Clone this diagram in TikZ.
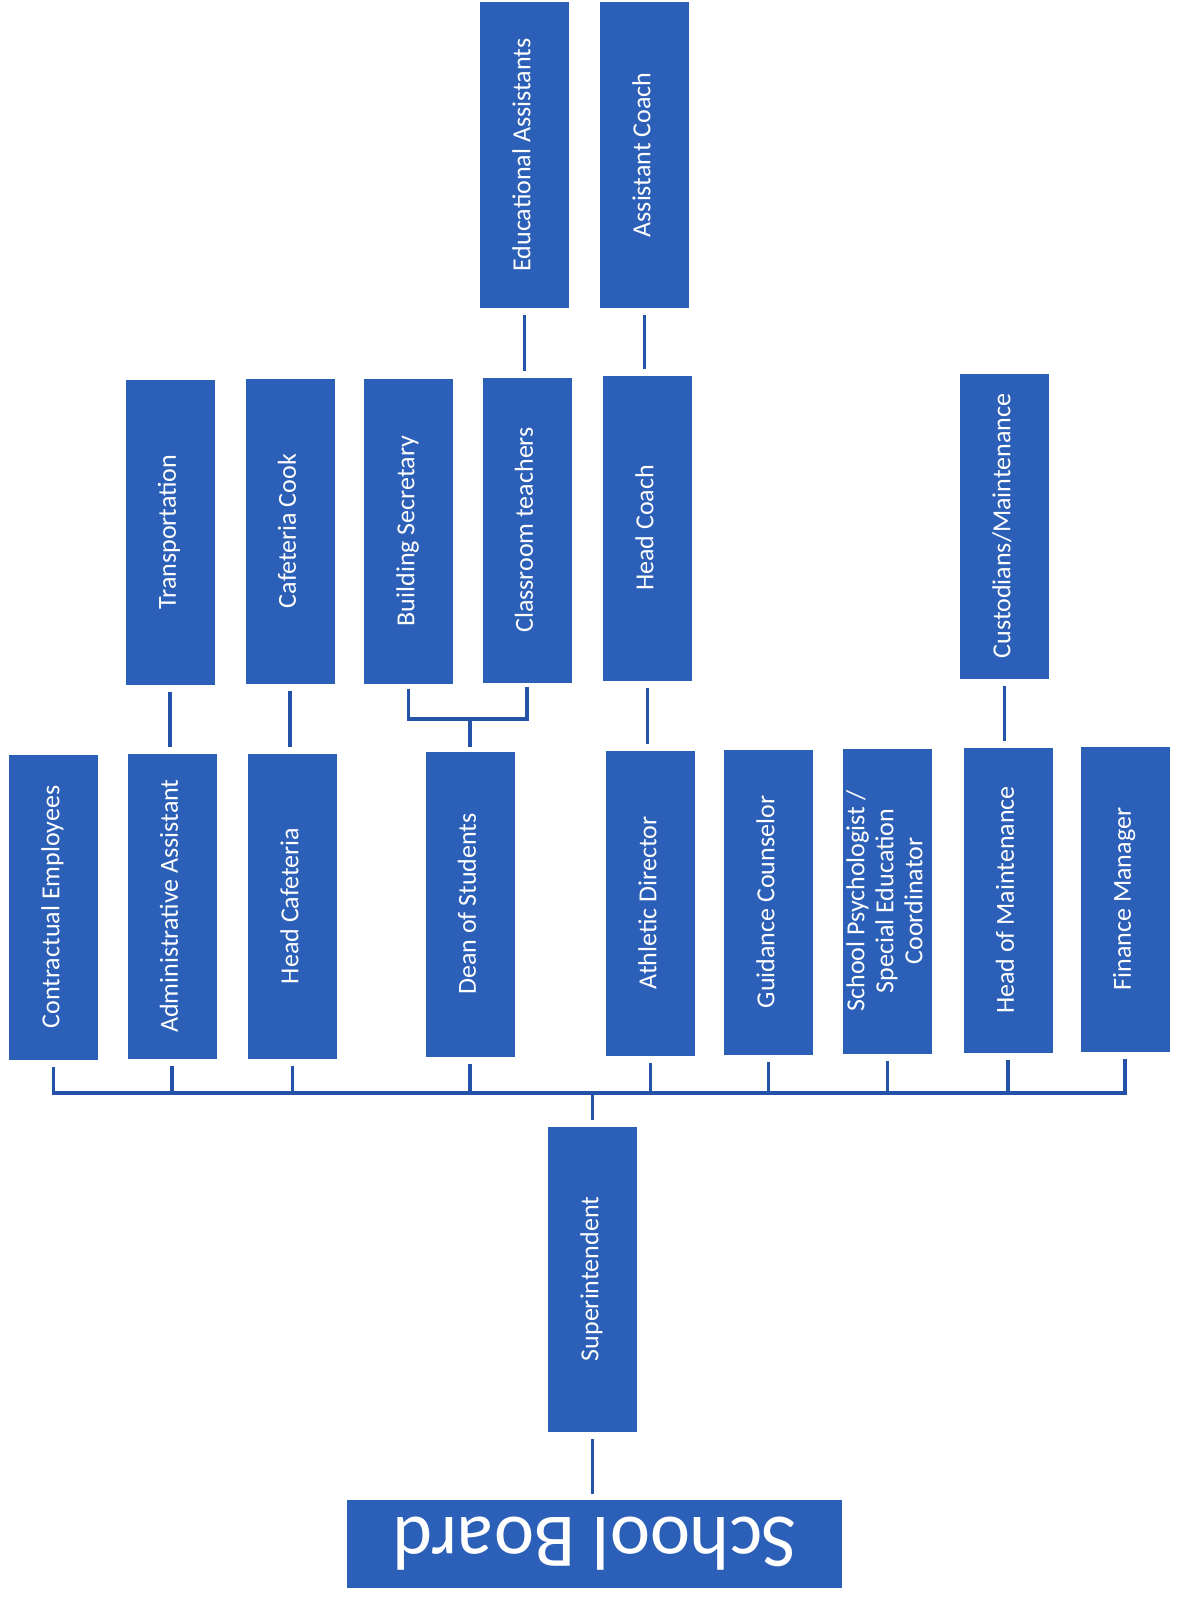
\documentclass[tikz,border=0pt]{standalone}
\usepackage{fontspec}
\usepackage{graphicx}
\setmainfont{Carlito}
\definecolor{boxblue}{RGB}{44,96,184}
\definecolor{linecol}{RGB}{36,82,168}
\newcommand{\vtext}[1]{\rotatebox{90}{\begin{tabular}{@{}c@{}}#1\end{tabular}}}

\tikzset{
	box/.style={fill=boxblue, text=white, minimum width=89pt, minimum height=305pt,
		inner sep=0pt, font=\fontsize{26}{29}\selectfont},
	stem/.style={draw=linecol, line width=3.5pt},
	link/.style={stem, shorten <=7pt, shorten >=6pt}
}

\begin{document}
\begin{tikzpicture}[x=1pt,y=-1pt]

	\useasboundingbox (0,0) rectangle (1177,1597);

	% top row
	\node[box] (edu) at (524.5,155) {\vtext{Educational Assistants}};
	\node[box] (asstcoach) at (644.5,155) {\vtext{Assistant Coach}};

	% second row
	\node[box] (transport) at (170,532) {\vtext{Transportation}};
	\node[box] (cook) at (290,531) {\vtext{Cafeteria Cook}};
	\node[box] (secretary) at (408.5,531) {\vtext{Building Secretary}};
	\node[box] (teachers) at (527,530) {\vtext{Classroom teachers}};
	\node[box] (headcoach) at (647.5,528) {\vtext{Head Coach}};
	\node[box] (custodians) at (1004.5,526) {\vtext{Custodians/Maintenance}};

	% third row
	\node[box] (contract) at (53.5,907) {\vtext{Contractual Employees}};
	\node[box] (admin) at (172,906) {\vtext{Administrative Assistant}};
	\node[box] (headcaf) at (292.5,906) {\vtext{Head Cafeteria}};
	\node[box] (dean) at (470,904) {\vtext{Dean of Students}};
	\node[box] (athletic) at (650.5,903) {\vtext{Athletic Director}};
	\node[box] (guidance) at (768.5,902) {\vtext{Guidance Counselor}};
	\node[box] (psych) at (887.5,901) {\vtext{School Psychologist /\\Special Education\\Coordinator}};
	\node[box] (headmaint) at (1008,900) {\vtext{Head of Maintenance}};
	\node[box] (finance) at (1125,899) {\vtext{Finance Manager}};

	\node[box] (super) at (592.5,1279) {\vtext{Superintendent}};
	\node[box, minimum width=495pt, minimum height=88pt, font=\fontsize{76}{80}\selectfont]
		(board) at (594.5,1544) {\rotatebox{180}{School Board}};

	% single links
	\draw[link] (edu.south) -- (edu.south |- teachers.north);
	\draw[link] (asstcoach.south) -- (asstcoach.south |- headcoach.north);
	\draw[link] (transport.south) -- (transport.south |- admin.north);
	\draw[link] (cook.south) -- (cook.south |- headcaf.north);
	\draw[link] (headcoach.south) -- (headcoach.south |- athletic.north);
	\draw[link] (custodians.south) -- (custodians.south |- headmaint.north);
	\draw[link] (super.south) -- (super.south |- board.north);

	% bracket to the dean
	\coordinate (brk) at (0,719);
	\draw[link, line cap=rect] (secretary.south) -- (secretary.south |- brk) -- (teachers.south |- brk) -- (teachers.south);
	\draw[stem, shorten >=4pt] (dean.north |- brk) -- (dean.north);

	% bus to the superintendent
	\coordinate (bus) at (0,1093);
	\draw[stem, line cap=rect] (contract.south |- bus) -- (finance.south |- bus);
	\foreach \n in {contract,admin,headcaf,dean,athletic,guidance,psych,headmaint,finance}
	{
		\draw[stem, shorten <=7pt] (\n.south) -- (\n.south |- bus);
	}
	\draw[stem, shorten >=6pt] (super.north |- bus) -- (super.north);

\end{tikzpicture}
\end{document}
